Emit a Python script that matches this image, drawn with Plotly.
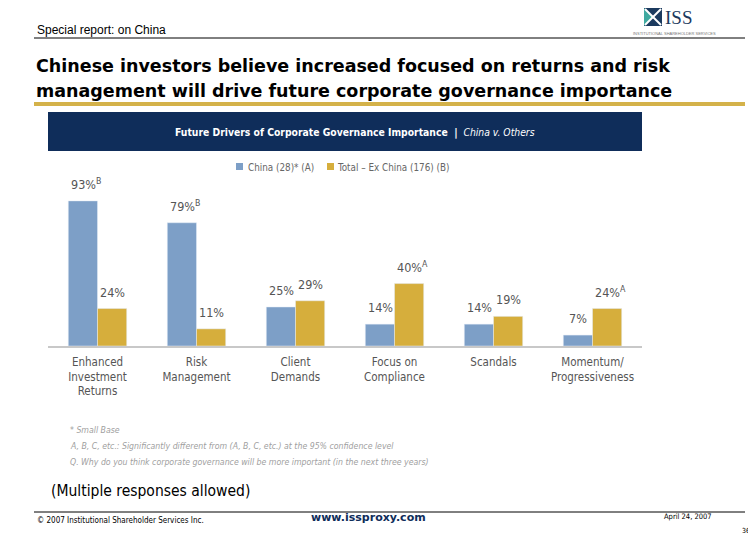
import plotly.graph_objects as go

categories = ["Enhanced<br>Investment<br>Returns", "Risk<br>Management", "Client<br>Demands",
              "Focus on<br>Compliance", "Scandals", "Momentum/<br>Progressiveness"]
china = [93, 79, 25, 14, 14, 7]
others = [24, 11, 29, 40, 19, 24]
china_sig = ["B", "B", "", "", "", ""]
others_sig = ["", "", "", "A", "", "A"]
series_names = ["China (28)* (A)", "Total – Ex China (176) (B)"]

def lab(v, s):
    return f"{v}%" + (f"<sup>{s}</sup>" if s else "")

BLUE = "#7D9FC7"
GOLD = "#D6AE3C"
NAVY = "#0F2D5A"
CF = "Liberation Sans Narrow, DejaVu Sans Condensed, Arial Narrow, sans-serif"

fig = go.Figure()
fig.add_trace(go.Bar(x=categories, y=china, name=series_names[0], marker_color=BLUE))
fig.add_trace(go.Bar(x=categories, y=others, name=series_names[1], marker_color=GOLD))

# value labels above bars
val_anns = []
for vals, sigs, shift in ((china, china_sig, -14.5), (others, others_sig, 14.5)):
    for c, v, s in zip(categories, vals, sigs):
        val_anns.append(dict(x=c, y=v, xref="x", yref="y", text=lab(v, s), showarrow=False,
                             xanchor="center", yanchor="bottom", xshift=shift + (3 if s else 0), yshift=7,
                             font=dict(family=CF, size=12.5, color="#555555")))

# body has 8px margin in the page; margins are compensated so the plot area sits at 48..642 x 170..346
fig.update_layout(
    width=756, height=540, barmode="group", bargap=0.41, bargroupgap=0,
    margin=dict(l=40, r=122, t=162, b=202),
    paper_bgcolor="white", plot_bgcolor="white",
    font=dict(family=CF, color="#555555"),
    showlegend=False,
    xaxis=dict(showline=True, linecolor="#C8C8C8", linewidth=1.5, ticks="", ticklabelstandoff=4,
               tickfont=dict(family=CF, size=11.5, color="#555555"), showgrid=False),
    yaxis=dict(range=[0, 112.8], visible=False, showgrid=False),
)

def px(x):
    return (x - 48) / 594
def py(y):
    return (346 - y) / 176

shapes = [
    dict(type="line", xref="paper", yref="paper", x0=px(34), x1=px(745), y0=py(38), y1=py(38),
         line=dict(color="black", width=1)),
    dict(type="rect", xref="paper", yref="paper", x0=px(34), x1=px(745), y0=py(106), y1=py(102),
         fillcolor="#D4B24A", line=dict(width=0)),
    dict(type="rect", xref="paper", yref="paper", x0=px(48), x1=px(642), y0=py(151), y1=py(112),
         fillcolor=NAVY, line=dict(width=0)),
    dict(type="line", xref="paper", yref="paper", x0=px(34), x1=px(745), y0=py(512), y1=py(512),
         line=dict(color="black", width=1)),
    # legend swatches
    dict(type="rect", xref="paper", yref="paper", x0=px(236), x1=px(243), y0=py(170), y1=py(163),
         fillcolor=BLUE, line=dict(width=0)),
    dict(type="rect", xref="paper", yref="paper", x0=px(327), x1=px(334), y0=py(170), y1=py(163),
         fillcolor=GOLD, line=dict(width=0)),
    # logo square
    dict(type="rect", xref="paper", yref="paper", x0=px(644), x1=px(662), y0=py(26), y1=py(8),
         fillcolor="#1B3A5E", line=dict(width=0)),
    dict(type="path", xref="paper", yref="paper",
         path=f"M {px(644)} {py(8)} L {px(653)} {py(17)} L {px(644)} {py(26)} Z",
         fillcolor="#3FA9A0", line=dict(width=0)),
    dict(type="line", xref="paper", yref="paper", x0=px(645), x1=px(661), y0=py(9), y1=py(25),
         line=dict(color="white", width=2)),
    dict(type="line", xref="paper", yref="paper", x0=px(645), x1=px(661), y0=py(25), y1=py(9),
         line=dict(color="white", width=2)),
]

def ann(x, y, text, size, color="black", family="Arial, Liberation Sans, sans-serif", xanchor="left", **kw):
    return dict(xref="paper", yref="paper", x=px(x), y=py(y), text=text, showarrow=False,
                xanchor=xanchor, yanchor="middle", font=dict(size=size, color=color, family=family), **kw)

TITLE_F = "DejaVu Sans, Verdana, sans-serif"
annotations = [
    ann(35, 30, "Special report: on China", 12),
    ann(663, 17, "ISS", 19, color="#1B3A5E", family="Liberation Serif, Times New Roman, serif"),
    ann(674, 33, "INSTITUTIONAL SHAREHOLDER SERVICES", 4, color="#777777", xanchor="center"),
    ann(34, 66, "<b>Chinese investors believe increased focused on returns and risk</b>", 17.5, family=TITLE_F),
    ann(34, 91, "<b>management will drive future corporate governance importance</b>", 17.5, family=TITLE_F),
    ann(355, 132, "<b>Future Drivers of Corporate Governance Importance  |</b>  <i>China v. Others</i>", 10.3,
        color="white", family=CF, xanchor="center"),
    ann(246, 167, series_names[0], 9.8, color="#666666", family=CF),
    ann(335, 167, series_names[1], 9.8, color="#666666", family=CF),
    ann(68, 430, "<i>* Small Base</i>", 8.7, color="#A0A0A0", family=CF),
    ann(68, 446, "<i>A, B, C, etc.: Significantly different from (A, B, C, etc.) at the 95% confidence level</i>", 8.7,
        color="#A0A0A0", family=CF),
    ann(68, 462, "<i>Q. Why do you think corporate governance will be more important (in the next three years)</i>", 8.7,
        color="#A0A0A0", family=CF),
    ann(49, 491, "(Multiple responses allowed)", 15.5, family="DejaVu Sans Condensed, Tahoma, sans-serif"),
    ann(35, 520, "© 2007 Institutional Shareholder Services Inc.", 8, family="DejaVu Sans Condensed, sans-serif"),
    ann(368, 517, "<b>www.issproxy.com</b>", 11, color=NAVY, family="DejaVu Sans, Verdana, sans-serif", xanchor="center"),
    ann(662, 516, "April 24, 2007", 7.5, family="DejaVu Sans Condensed, sans-serif"),
    ann(740, 531, "36", 7, family="DejaVu Sans Condensed, sans-serif"),
]

fig.update_layout(shapes=shapes, annotations=annotations + val_anns)
fig.write_html("out.html")
